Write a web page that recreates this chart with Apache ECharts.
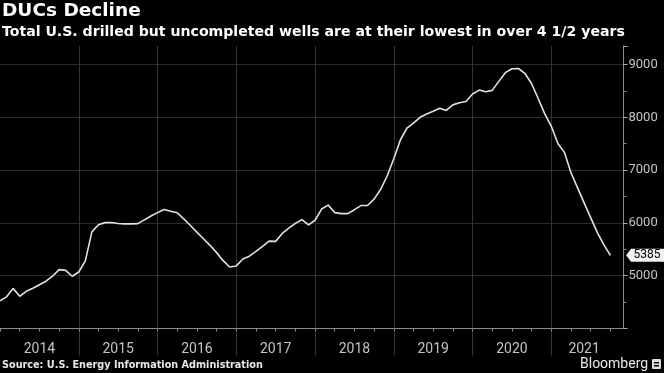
<!DOCTYPE html>
<html><head><meta charset="utf-8">
<script src="https://cdn.jsdelivr.net/npm/echarts@6/dist/echarts.min.js"></script>
<style>html,body{margin:0;padding:0;background:#000;}#c{width:664px;height:373px;}</style>
</head><body><div id="c"></div>
<script>
// ---- data ----
const startYear = 2014;
const monthCount = 96; // Jan 2014 .. Dec 2021 (axis extent)
const ducValues = [4522,4600,4760,4610,4705,4763,4828,4896,4990,5115,
  5100,4990,5070,5280,5830,5965,6005,6008,5988,5981,
  5982,5987,6058,6130,6195,6255,6222,6192,6075,5950,
  5825,5700,5575,5437,5285,5165,5185,5315,5370,5460,
  5555,5655,5650,5800,5902,5990,6060,5962,6050,6262,
  6336,6195,6175,6175,6250,6328,6330,6450,6636,6893,
  7215,7570,7795,7890,8000,8063,8115,8170,8130,8235,
  8276,8300,8440,8515,8485,8510,8680,8845,8920,8924,
  8829,8635,8355,8065,7830,7505,7335,6950,6663,6380,
  6100,5820,5590,5385];
const yearLabels = ['2014','2015','2016','2017','2018','2019','2020','2021'];
const yTickLabels = [5000,6000,7000,8000,9000];
const titleText = 'DUCs Decline';
const subtitleText = 'Total U.S. drilled but uncompleted wells are at their lowest in over 4 1/2 years';
const sourceText = 'Source: U.S. Energy Information Administration';

const months = [];
for (let i = 0; i < monthCount; i++) {
  const y = startYear + Math.floor(i / 12);
  const m = (i % 12) + 1;
  months.push(y + '-' + (m < 10 ? '0' + m : m));
}
// label index for each year (mid-year; last partial year centred in visible part)
const labelIdx = yearLabels.map((y, k) => k < yearLabels.length - 1 ? k * 12 + 6 : k * 12 + 5);
const lastIdx = ducValues.length - 1;

const font = 'DejaVu Sans';
const axisFont = 'Liberation Sans Narrow, Roboto';
const chart = echarts.init(document.getElementById('c'), null, {renderer: 'canvas'});
chart.setOption({
  backgroundColor: '#000',
  animation: false,
  title: [
    {text: titleText, left: 2, top: 2, padding: 0,
     textStyle: {color: '#fff', fontSize: 18.5, fontWeight: 'bold', fontFamily: font}},
    {text: subtitleText, left: 2, top: 25, padding: 0,
     textStyle: {color: '#fff', fontSize: 14.1, fontWeight: 'bold', fontFamily: font}},
    {text: sourceText, left: 2, top: 360, padding: 0,
     textStyle: {color: '#e8e8e8', fontSize: 9.7, fontWeight: 'bold', fontFamily: font}},
    {text: 'Bloomberg', left: 580, top: 357, padding: 0,
     textStyle: {color: '#e8e8e8', fontSize: 14, fontWeight: 'normal', fontFamily: 'Roboto'}}
  ],
  graphic: [
    {type: 'rect', shape: {x: 652, y: 359, width: 9, height: 10, r: 1}, style: {fill: '#ddd'}},
    {type: 'rect', shape: {x: 654, y: 362, width: 5, height: 1.5}, style: {fill: '#000'}},
    {type: 'rect', shape: {x: 654, y: 365, width: 5, height: 1.5}, style: {fill: '#000'}}
  ],
  grid: {left: 0, right: 40.5, top: 46, bottom: 44.5, containLabel: false},
  xAxis: [{
    type: 'category', data: months, boundaryGap: false, position: 'bottom',
    axisLine: {show: true, lineStyle: {color: '#8c8c8c', width: 1}},
    axisTick: {show: true, interval: (i) => i % 12 === 0 && i > 0, length: 27, lineStyle: {color: '#363636'}},
    splitLine: {show: true, interval: (i) => i % 12 === 0 && i > 0, lineStyle: {color: '#333', width: 1}},
    axisLabel: {interval: (i) => labelIdx.indexOf(i) >= 0,
      formatter: (v) => v.slice(0, 4), color: '#c4c4c4', fontSize: 14, margin: 14, fontFamily: axisFont}
  }, {
    type: 'category', data: months, boundaryGap: false, position: 'bottom',
    axisLine: {show: false},
    axisTick: {show: true, interval: (i) => i % 3 === 0, length: 3, lineStyle: {color: '#8c8c8c'}},
    axisLabel: {show: false}, splitLine: {show: false}
  }],
  yAxis: {
    type: 'value', position: 'right', min: 4000, max: 9350, interval: 1000,
    axisLine: {show: true, lineStyle: {color: '#8c8c8c'}},
    axisTick: {show: true, length: 4, lineStyle: {color: '#aaa'}},
    minorTick: {show: true, splitNumber: 2, length: 3, lineStyle: {color: '#888'}},
    splitLine: {show: true, showMaxLine: false, lineStyle: {color: '#2b2b2b', width: 1}},
    axisLabel: {formatter: (v) => yTickLabels.indexOf(v) >= 0 ? String(v) : '',
      color: '#c4c4c4', fontSize: 13, margin: 5, fontFamily: axisFont}
  },
  series: [{
    type: 'line', data: ducValues, xAxisIndex: 0, symbol: 'none',
    lineStyle: {color: '#e2e2e2', width: 1.6},
    markPoint: {
      symbol: 'path://M0,6.5 L5,0 L38,0 L38,13 L5,13 Z',
      symbolSize: [38, 13], symbolOffset: [34.7, 0],
      itemStyle: {color: '#f2f2f2'},
      label: {show: true, color: '#000', fontSize: 12, fontFamily: axisFont, offset: [2, 0], formatter: '{c}'},
      data: [{coord: [months[lastIdx], ducValues[lastIdx]], value: ducValues[lastIdx]}]
    }
  }]
});
</script></body></html>
